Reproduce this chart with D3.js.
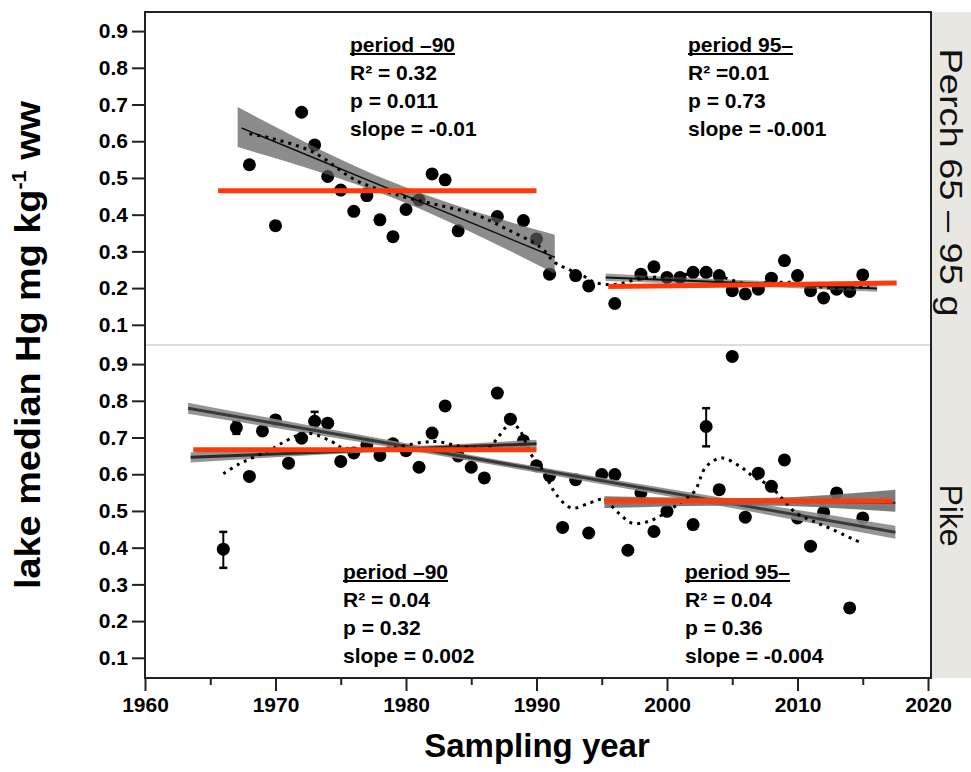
<!DOCTYPE html>
<html>
<head>
<meta charset="utf-8">
<script src="https://cdn.jsdelivr.net/npm/d3@7"></script>
<style>
  body { margin: 0; background: #fff; }
  svg { display: block; }
  .narrow { font-family: 'Liberation Sans Narrow', 'Arial Narrow', 'Liberation Sans', Arial, sans-serif; font-weight: bold; }
  .sans { font-family: 'Liberation Sans', Arial, sans-serif; }
</style>
</head>
<body>
<script>
// ---- data ----

// perch 65-95 g, lake medians
var perchYears = [1968, 1970, 1972, 1973, 1974, 1975, 1976, 1977, 1978, 1979, 1980, 1981, 1982, 1983, 1984, 1987, 1989, 1990, 1991, 1993, 1994, 1996, 1998, 1999, 2000, 2001, 2002, 2003, 2004, 2005, 2006, 2007, 2008, 2009, 2010, 2011, 2012, 2013, 2014, 2015];
var perchHg = [0.536, 0.37, 0.679, 0.59, 0.504, 0.467, 0.409, 0.452, 0.386, 0.34, 0.414, 0.44, 0.511, 0.495, 0.356, 0.395, 0.384, 0.334, 0.238, 0.234, 0.206, 0.158, 0.238, 0.258, 0.229, 0.229, 0.243, 0.243, 0.234, 0.193, 0.184, 0.197, 0.227, 0.275, 0.234, 0.193, 0.173, 0.197, 0.191, 0.236];
var perchErrYears = [1977];
var perchErrLo = [0.44];
var perchErrHi = [0.47];

// pike, lake medians
var pikeYears = [1966, 1967, 1968, 1969, 1970, 1971, 1972, 1973, 1974, 1975, 1976, 1977, 1978, 1979, 1980, 1981, 1982, 1983, 1984, 1985, 1986, 1987, 1988, 1989, 1990, 1991, 1992, 1993, 1994, 1995, 1996, 1997, 1998, 1999, 2000, 2002, 2003, 2004, 2005, 2006, 2007, 2008, 2009, 2010, 2011, 2012, 2013, 2014, 2015];
var pikeHg = [0.396, 0.727, 0.594, 0.718, 0.748, 0.63, 0.698, 0.744, 0.739, 0.635, 0.658, 0.68, 0.651, 0.683, 0.664, 0.619, 0.712, 0.786, 0.65, 0.619, 0.59, 0.821, 0.75, 0.691, 0.623, 0.596, 0.455, 0.585, 0.44, 0.599, 0.599, 0.393, 0.55, 0.444, 0.499, 0.463, 0.73, 0.558, 0.921, 0.483, 0.603, 0.567, 0.639, 0.481, 0.404, 0.496, 0.549, 0.236, 0.481];
var pikeErrYears = [1966, 1967, 1973, 2003];
var pikeErrLo = [0.345, 0.71, 0.72, 0.676];
var pikeErrHi = [0.443, 0.745, 0.77, 0.78];

// dotted smoothers
var perchSmoothYears = [1968, 1969.8, 1972.9, 1976.2, 1979.5, 1982.6, 1985.2, 1987.7, 1990.3, 1991.4, 1992.5, 1993.5, 1994.5, 1996, 1998, 2000, 2002, 2004, 2006, 2008, 2010, 2012, 2014, 2015.5];
var perchSmoothHg = [0.62, 0.607, 0.57, 0.493, 0.452, 0.425, 0.402, 0.361, 0.311, 0.27, 0.25, 0.235, 0.215, 0.21, 0.226, 0.232, 0.238, 0.232, 0.212, 0.215, 0.215, 0.202, 0.2, 0.205];
var pikeSmoothYears = [1966, 1967.2, 1968, 1970, 1970.7, 1972.4, 1974.3, 1975, 1978, 1981.3, 1982.4, 1983.6, 1985.2, 1986.3, 1987.1, 1987.7, 1988.1, 1988.7, 1989.6, 1990.3, 1991, 1991.5, 1992.7, 1994.1, 1995.1, 1996.3, 1997.3, 1998.2, 1999.2, 2001, 2002.1, 2003, 2004.2, 2005.6, 2006.6, 2007.9, 2008.9, 2009.9, 2011.2, 2012.7, 2014.7];
var pikeSmoothHg = [0.601, 0.628, 0.641, 0.674, 0.689, 0.712, 0.689, 0.674, 0.667, 0.687, 0.689, 0.68, 0.671, 0.671, 0.703, 0.73, 0.739, 0.721, 0.653, 0.621, 0.576, 0.545, 0.508, 0.522, 0.531, 0.494, 0.467, 0.468, 0.481, 0.522, 0.553, 0.621, 0.644, 0.621, 0.594, 0.567, 0.531, 0.494, 0.472, 0.449, 0.416];

// regression fits (line ends) and their confidence bands
var perchFitEarlyYears = [1967.4, 1991.4], perchFitEarlyHg = [0.636, 0.284];
var perchBandEarlyYears = [1967.1, 1979, 1991.4], perchBandEarlyLo = [0.584, 0.446, 0.24], perchBandEarlyHi = [0.693, 0.488, 0.345];
var perchFitLateYears = [1995.3, 2016.1], perchFitLateHg = [0.229, 0.199];
var perchBandLateYears = [1995.3, 2005.5, 2016.1], perchBandLateLo = [0.219, 0.206, 0.19], perchBandLateHi = [0.24, 0.222, 0.208];

var pikeFitAllYears = [1963.3, 2017.5], pikeFitAllHg = [0.78, 0.442];
var pikeBandAllYears = [1963.3, 1990, 2017.5], pikeBandAllLo = [0.765, 0.605, 0.424], pikeBandAllHi = [0.795, 0.621, 0.46];
var pikeFitEarlyYears = [1963.5, 1990], pikeFitEarlyHg = [0.646, 0.683];
var pikeBandEarlyYears = [1963.5, 1977, 1990], pikeBandEarlyLo = [0.632, 0.659, 0.672], pikeBandEarlyHi = [0.66, 0.671, 0.694];
var pikeFitLateYears = [1995.2, 2017.5], pikeFitLateHg = [0.53, 0.522];
var pikeBandLateYears = [1995.2, 2006, 2017.5], pikeBandLateLo = [0.508, 0.515, 0.498], pikeBandLateHi = [0.54, 0.535, 0.558];

// period means (red)
var perchMeanYears = [[1965.6, 1990], [1995.5, 2017.6]], perchMeanHg = [[0.465, 0.465], [0.204, 0.214]];
var pikeMeanYears = [[1963.7, 1990], [1995.2, 2017.3]], pikeMeanHg = [[0.667, 0.667], [0.527, 0.527]];

// statistics text
var perchStats = [["period \u201390", "R\u00b2 = 0.32", "p = 0.011", "slope = -0.01"], ["period 95\u2013", "R\u00b2 =0.01", "p = 0.73", "slope = -0.001"]];
var pikeStats = [["period \u201390", "R\u00b2 = 0.04", "p = 0.32", "slope = 0.002"], ["period 95\u2013", "R\u00b2 = 0.04", "p = 0.36", "slope = -0.004"]];

var yTicks = [0.1, 0.2, 0.3, 0.4, 0.5, 0.6, 0.7, 0.8, 0.9];
var xMajor = [1960, 1970, 1980, 1990, 2000, 2010, 2020];
var xMinor = [1965, 1975, 1985, 1995, 2005, 2015];

// ---- layout ----
var width = 971, height = 772;
var plotLeft = 145, plotRight = 931, plotTop = 12, plotMid = 345, plotBottom = 678;

var svg = d3.select('body').append('svg')
  .attr('width', width)
  .attr('height', height);

var x = d3.scaleLinear().domain([1960, 2020]).range([plotLeft, 928]);

var red = '#ff3a0a';

var panels = [
  { label: 'Perch 65 \u2013 95 g', labelLen: 268, labelShift: 4, y0: plotMid, y1: plotTop,
    years: perchYears, hg: perchHg, errYears: perchErrYears, errLo: perchErrLo, errHi: perchErrHi,
    sYears: perchSmoothYears, sHg: perchSmoothHg,
    fits: [
      { bx: perchBandEarlyYears, lo: perchBandEarlyLo, hi: perchBandEarlyHi, lx: perchFitEarlyYears, ly: perchFitEarlyHg, fill: '#5b5b5b', op: 0.7, lw: 1.5, lc: '#111' },
      { bx: perchBandLateYears, lo: perchBandLateLo, hi: perchBandLateHi, lx: perchFitLateYears, ly: perchFitLateHg, fill: '#5b5b5b', op: 0.6, lw: 2, lc: '#111' }
    ],
    meanX: perchMeanYears, meanY: perchMeanHg,
    stats: perchStats, statPos: [[350, 45], [688, 45]] },
  { label: 'Pike', labelLen: 0, labelShift: 4, y0: plotBottom, y1: plotMid,
    years: pikeYears, hg: pikeHg, errYears: pikeErrYears, errLo: pikeErrLo, errHi: pikeErrHi,
    sYears: pikeSmoothYears, sHg: pikeSmoothHg,
    fits: [
      { bx: pikeBandAllYears, lo: pikeBandAllLo, hi: pikeBandAllHi, lx: pikeFitAllYears, ly: pikeFitAllHg, fill: '#8a8a8a', op: 0.9, lw: 3, lc: '#3a3a3a' },
      { bx: pikeBandEarlyYears, lo: pikeBandEarlyLo, hi: pikeBandEarlyHi, lx: pikeFitEarlyYears, ly: pikeFitEarlyHg, fill: '#8a8a8a', op: 0.9, lw: 3, lc: '#2a2a2a' },
      { bx: pikeBandLateYears, lo: pikeBandLateLo, hi: pikeBandLateHi, lx: pikeFitLateYears, ly: pikeFitLateHg, fill: '#6e6e6e', op: 0.9, lw: 2, lc: '#222' }
    ],
    meanX: pikeMeanYears, meanY: pikeMeanHg,
    stats: pikeStats, statPos: [[343, 572], [685, 572]] }
];

// right-hand strip
svg.append('rect')
  .attr('x', plotRight).attr('y', plotTop)
  .attr('width', width - plotRight).attr('height', plotBottom - plotTop)
  .attr('fill', '#e8e7e1');

panels.forEach(function(p) {
  var y = d3.scaleLinear().domain([0.045, 0.952]).range([p.y0, p.y1]);
  var g = svg.append('g');

  // points
  g.selectAll('.pt')
    .data(p.years)
    .enter().append('circle')
    .attr('cx', function(d) { return x(d); })
    .attr('cy', function(d, i) { return y(p.hg[i]); })
    .attr('r', 6.5)
    .attr('fill', '#000');

  // error bars
  var eb = g.selectAll('.eb').data(p.errYears).enter().append('g');
  eb.append('line')
    .attr('x1', function(d) { return x(d); }).attr('x2', function(d) { return x(d); })
    .attr('y1', function(d, i) { return y(p.errLo[i]); })
    .attr('y2', function(d, i) { return y(p.errHi[i]); })
    .attr('stroke', '#000').attr('stroke-width', 2);
  ['errLo', 'errHi'].forEach(function(k) {
    eb.append('line')
      .attr('x1', function(d) { return x(d) - 4; }).attr('x2', function(d) { return x(d) + 4; })
      .attr('y1', function(d, i) { return y(p[k][i]); })
      .attr('y2', function(d, i) { return y(p[k][i]); })
      .attr('stroke', '#000').attr('stroke-width', 2.5);
  });

  // confidence bands + fit lines
  p.fits.forEach(function(f) {
    var area = d3.area()
      .x(function(d) { return x(d); })
      .y0(function(d, i) { return y(f.lo[i]); })
      .y1(function(d, i) { return y(f.hi[i]); })
      .curve(d3.curveMonotoneX);
    g.append('path')
      .attr('d', area(f.bx))
      .attr('fill', f.fill)
      .attr('fill-opacity', f.op);
    g.append('line')
      .attr('x1', x(f.lx[0])).attr('x2', x(f.lx[1]))
      .attr('y1', y(f.ly[0])).attr('y2', y(f.ly[1]))
      .attr('stroke', f.lc).attr('stroke-width', f.lw);
  });

  // dotted smoother
  var smooth = d3.line()
    .x(function(d) { return x(d); })
    .y(function(d, i) { return y(p.sHg[i]); })
    .curve(d3.curveCatmullRom);
  g.append('path')
    .attr('d', smooth(p.sYears))
    .attr('fill', 'none')
    .attr('stroke', '#000')
    .attr('stroke-width', 3)
    .attr('stroke-dasharray', '3,5');

  // period means
  p.meanX.forEach(function(mx, i) {
    g.append('line')
      .attr('x1', x(mx[0])).attr('x2', x(mx[1]))
      .attr('y1', y(p.meanY[i][0])).attr('y2', y(p.meanY[i][1]))
      .attr('stroke', red).attr('stroke-width', 5);
  });

  // stats text
  p.stats.forEach(function(lines, j) {
    var px = p.statPos[j][0], py = p.statPos[j][1];
    lines.forEach(function(t, k) {
      var tx = g.append('text')
        .attr('class', 'narrow')
        .attr('x', px).attr('y', py + k * 28)
        .attr('dy', '0.35em')
        .attr('font-size', 21)
        .text(t);
      if (k === 0) {
        var w = tx.node().getComputedTextLength();
        g.append('line')
          .attr('x1', px).attr('x2', px + w)
          .attr('y1', py + 9).attr('y2', py + 9)
          .attr('stroke', '#000').attr('stroke-width', 2);
      }
    });
  });

  // y axis
  var ax = svg.append('g')
    .attr('transform', 'translate(' + plotLeft + ',0)')
    .call(d3.axisLeft(y).tickValues(yTicks).tickSize(13).tickPadding(4).tickFormat(d3.format('.1f')));
  ax.select('.domain').remove();
  ax.selectAll('line').attr('stroke', '#222').attr('stroke-width', 2);
  ax.selectAll('text').attr('class', 'narrow').attr('font-size', 21).attr('fill', '#000');

  // strip label
  var sl = svg.append('text')
    .attr('class', 'sans')
    .attr('transform', 'translate(' + (plotRight + 20) + ',' + ((p.y0 + p.y1) / 2 + p.labelShift) + ') rotate(90)')
    .attr('text-anchor', 'middle')
    .attr('dy', '0.35em')
    .attr('font-size', 32)
    .attr('fill', '#111')
    .text(p.label);
  if (p.labelLen) sl.attr('textLength', p.labelLen).attr('lengthAdjust', 'spacingAndGlyphs');
});

// panel divider
svg.append('line')
  .attr('x1', plotLeft).attr('x2', plotRight)
  .attr('y1', plotMid).attr('y2', plotMid)
  .attr('stroke', '#dcdcdc').attr('stroke-width', 2);

// frame
svg.append('rect')
  .attr('x', plotLeft).attr('y', plotTop)
  .attr('width', plotRight - plotLeft).attr('height', plotBottom - plotTop)
  .attr('fill', 'none')
  .attr('stroke', '#222').attr('stroke-width', 2);

// x axis
var xa = svg.append('g')
  .attr('transform', 'translate(0,' + plotBottom + ')')
  .call(d3.axisBottom(x).tickValues(xMajor).tickSize(13).tickPadding(6).tickFormat(d3.format('d')));
xa.select('.domain').remove();
xa.selectAll('line').attr('stroke', '#222').attr('stroke-width', 2);
xa.selectAll('text').attr('class', 'narrow').attr('font-size', 21).attr('fill', '#000');

var xm = svg.append('g')
  .attr('transform', 'translate(0,' + plotBottom + ')')
  .call(d3.axisBottom(x).tickValues(xMinor).tickSize(7).tickFormat(''));
xm.select('.domain').remove();
xm.selectAll('line').attr('stroke', '#222').attr('stroke-width', 2);

// axis titles
svg.append('text')
  .attr('class', 'sans')
  .attr('x', 537).attr('y', 757)
  .attr('text-anchor', 'middle')
  .attr('font-size', 33)
  .attr('font-weight', 'bold')
  .text('Sampling year');

var yt = svg.append('text')
  .attr('class', 'sans')
  .attr('transform', 'translate(40,' + plotMid + ') rotate(-90)')
  .attr('text-anchor', 'middle')
  .attr('font-size', 35)
  .attr('font-weight', 'bold')
  .attr('textLength', 488)
  .attr('lengthAdjust', 'spacingAndGlyphs');
yt.append('tspan').text('lake median Hg mg kg');
yt.append('tspan').attr('font-size', 20).attr('dy', -14).text('-1');
yt.append('tspan').attr('dy', 14).text(' ww');
</script>
</body>
</html>
